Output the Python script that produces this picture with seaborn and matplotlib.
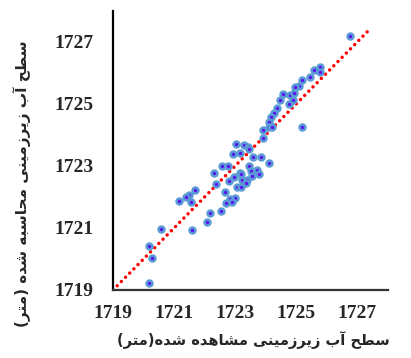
import matplotlib
matplotlib.use("Agg")
import matplotlib.pyplot as plt
import seaborn as sns
import pandas as pd

# observed vs computed groundwater level (m)
observed = [
    1726.77, 1725.77, 1725.59, 1725.79, 1725.46, 1725.20, 1725.10, 1724.97, 1724.78, 1724.56,
    1724.91, 1724.89, 1724.48, 1724.76, 1724.37, 1724.26, 1724.17, 1724.10, 1724.09, 1724.20,
    1723.91, 1725.17, 1723.91, 1723.01, 1723.28, 1723.43, 1723.46, 1722.92, 1723.14, 1723.59,
    1723.83, 1724.10, 1722.58, 1722.77, 1723.44, 1722.29, 1723.71, 1723.50, 1723.77, 1723.14,
    1722.95, 1723.19, 1722.80, 1723.23, 1723.55, 1723.39, 1722.37, 1723.05, 1723.20, 1723.36,
    1721.68, 1721.48, 1721.39, 1721.17, 1721.56, 1722.67, 1722.98, 1722.84, 1722.90, 1722.70,
    1722.54, 1722.19, 1722.06, 1721.59, 1720.56, 1720.17, 1720.28, 1720.17,
]
computed = [
    1727.19, 1726.20, 1726.10, 1726.02, 1725.85, 1725.76, 1725.57, 1725.55, 1725.30, 1725.31,
    1725.34, 1725.12, 1725.11, 1725.00, 1724.88, 1724.72, 1724.57, 1724.42, 1724.25, 1724.26,
    1724.15, 1724.25, 1723.90, 1723.69, 1723.68, 1723.62, 1723.53, 1723.39, 1723.40, 1723.28,
    1723.29, 1723.10, 1723.01, 1723.01, 1722.98, 1722.78, 1722.87, 1722.82, 1722.74, 1722.78,
    1722.65, 1722.73, 1722.52, 1722.55, 1722.66, 1722.55, 1722.43, 1722.33, 1722.33, 1722.44,
    1722.22, 1722.06, 1722.01, 1721.87, 1721.83, 1722.16, 1721.96, 1721.94, 1721.85, 1721.80,
    1721.56, 1721.49, 1721.18, 1720.94, 1720.97, 1720.43, 1720.03, 1719.22,
]
ticks = [1719, 1721, 1723, 1725, 1727]
line_ends = [1719, 1727.45]

xlabel = "سطح آب زیرزمینی مشاهده شده(متر)"
ylabel = "سطح آب زیرزمینی محاسبه شده (متر)"

# matplotlib has no arabic shaping, so pick presentation forms by hand
FORMS = {
    "ا": ("\uFE8D", "\uFE8E", None, None),
    "آ": ("\uFE81", "\uFE82", None, None),
    "ب": ("\uFE8F", "\uFE90", "\uFE91", "\uFE92"),
    "ت": ("\uFE95", "\uFE96", "\uFE97", "\uFE98"),
    "ح": ("\uFEA1", "\uFEA2", "\uFEA3", "\uFEA4"),
    "د": ("\uFEA9", "\uFEAA", None, None),
    "ر": ("\uFEAD", "\uFEAE", None, None),
    "ز": ("\uFEAF", "\uFEB0", None, None),
    "س": ("\uFEB1", "\uFEB2", "\uFEB3", "\uFEB4"),
    "ش": ("\uFEB5", "\uFEB6", "\uFEB7", "\uFEB8"),
    "ط": ("\uFEC1", "\uFEC2", "\uFEC3", "\uFEC4"),
    "م": ("\uFEE1", "\uFEE2", "\uFEE3", "\uFEE4"),
    "ن": ("\uFEE5", "\uFEE6", "\uFEE7", "\uFEE8"),
    "ه": ("\uFEE9", "\uFEEA", "\uFEEB", "\uFEEC"),
    "ی": ("\uFBFC", "\uFBFD", "\uFBFE", "\uFBFF"),
}


def shape(text):
    out = []
    for i, ch in enumerate(text):
        if ch not in FORMS:
            out.append(ch)
            continue
        prev = text[i - 1] if i > 0 else ""
        nxt = text[i + 1] if i + 1 < len(text) else ""
        f = FORMS[ch]
        join_prev = prev in FORMS and FORMS[prev][2] is not None
        join_next = f[2] is not None and nxt in FORMS
        if join_prev and join_next:
            out.append(f[3])
        elif join_prev:
            out.append(f[1])
        elif join_next:
            out.append(f[2])
        else:
            out.append(f[0])
    mirror = {"(": ")", ")": "("}
    return "".join(mirror.get(c, c) for c in reversed(out))


sns.set_theme(style="white")
df = pd.DataFrame({"observed": observed, "computed": computed})

fig = plt.figure(figsize=(4.11, 3.58), dpi=100)
ax = fig.add_axes([0.275, 0.19, 0.669, 0.78])

ax.plot(line_ends, line_ends, color="red", linewidth=2.5,
        linestyle=(0, (0.01, 1.7)), dash_capstyle="round", zorder=1)
sns.scatterplot(data=df, x="observed", y="computed", ax=ax, s=18,
                color="#5a12ee", edgecolor="#5b9bd5", linewidth=1.8, zorder=2)

ax.set_xlim(1719, 1728)
ax.set_ylim(1719, 1728)
ax.set_xticks(ticks)
ax.set_yticks(ticks)
ax.set_xticklabels([str(t) for t in ticks], family="Liberation Serif",
                   fontweight="bold", fontsize=14)
ax.set_yticklabels([str(t) for t in ticks], family="Liberation Serif",
                   fontweight="bold", fontsize=14)
ax.tick_params(axis="x", length=0, pad=11)
ax.tick_params(axis="y", length=0, pad=14)

for side in ["top", "right"]:
    ax.spines[side].set_visible(False)
ax.spines["left"].set_color("black")
ax.spines["left"].set_linewidth(1.6)
ax.spines["bottom"].set_color("#333333")
ax.spines["bottom"].set_linewidth(1.6)

ax.set_xlabel(shape(xlabel), family=["DejaVu Sans"], fontweight="bold",
              fontsize=10.5, va="center")
ax.set_ylabel(shape(ylabel), family=["DejaVu Sans"], fontweight="bold",
              fontsize=11, va="center")
ax.xaxis.set_label_coords(0.51, -0.18)
ax.yaxis.set_label_coords(-0.33, 0.38)

fig.savefig("out.png", dpi=100)
